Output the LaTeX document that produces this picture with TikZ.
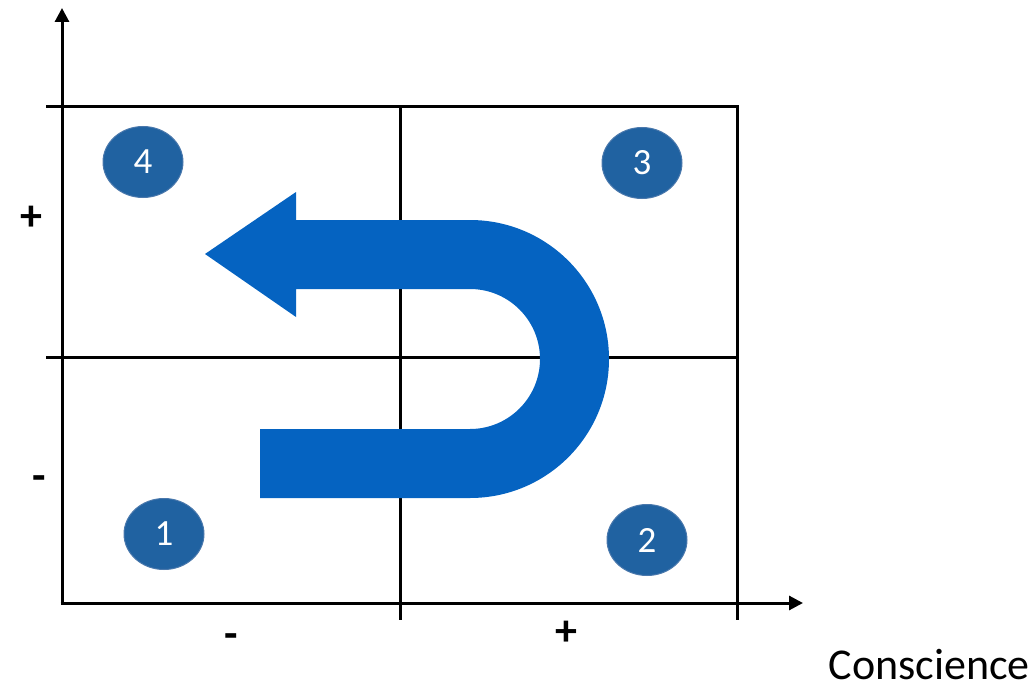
\documentclass[tikz,border=0pt]{standalone}
\usepackage{fontspec}
\setmainfont{Carlito}
\usetikzlibrary{shapes.geometric,arrows.meta}
\definecolor{numblue}{HTML}{2062A1}
\definecolor{numedge}{HTML}{4A78AC}
\definecolor{ublue}{HTML}{0563C1}
\tikzset{
  axisline/.style={line width=3pt,-{Triangle[length=14pt,width=14pt]}},
  gridline/.style={line width=3pt},
  numnode/.style={ellipse,fill=numblue,draw=numedge,line width=1pt,minimum width=80pt,minimum height=71pt,inner sep=0pt,text=white,font=\fontsize{37}{40}\selectfont},
  signlabel/.style={font=\bfseries\fontsize{44}{46}\selectfont,inner sep=0pt}
}
\begin{document}
\begin{tikzpicture}[x=1pt,y=-1pt]
\useasboundingbox (0,0) rectangle (1035,687);
% grid
\coordinate (gtl) at (46,107);
\coordinate (gtr) at (737,107);
\coordinate (gml) at (46,357);
\coordinate (gmr) at (737,357);
\coordinate (gvt) at (400,107);
\coordinate (gvb) at (400,620);
\coordinate (grb) at (737,620);
\draw[gridline] (gtl) -- (gtr) -- (grb);
\draw[gridline] (gml) -- (gmr);
\draw[gridline] (gvt) -- (gvb);
% axes
\coordinate (origin) at (62,603);
\coordinate (ytip) at (62,8);
\coordinate (xtip) at (803,603);
\draw[axisline] ([yshift=-1.5pt]origin) -- (ytip);
\draw[axisline] ([xshift=-1.5pt]origin) -- (xtip);
% U-turn arrow
\fill[ublue] (260,429) -- (470,429) arc[start angle=90,end angle=-90,radius=70]
  -- (296,289) -- (296,317) -- (205,254) -- (296,192) -- (296,220) -- (470,220)
  arc[start angle=-90,end angle=90,radius=139] -- (260,498) -- cycle;
% numbered ellipses
\node[numnode] (n4) at (143,162) {4};
\node[numnode] (n3) at (642,163) {3};
\node[numnode] (n1) at (164,534) {1};
\node[numnode] (n2) at (647,540) {2};
% signs
\node[signlabel] (yplus) at (31,218) {+};
\node[signlabel] (yminus) at (39,483) {-};
\node[signlabel] (xminus) at (231,641) {-};
\node[signlabel] (xplus) at (566,633) {+};
\node[font=\fontsize{44}{46}\selectfont,inner sep=0pt,anchor=base east] (cons) at (1030,679) {Conscience};
\end{tikzpicture}
\end{document}
